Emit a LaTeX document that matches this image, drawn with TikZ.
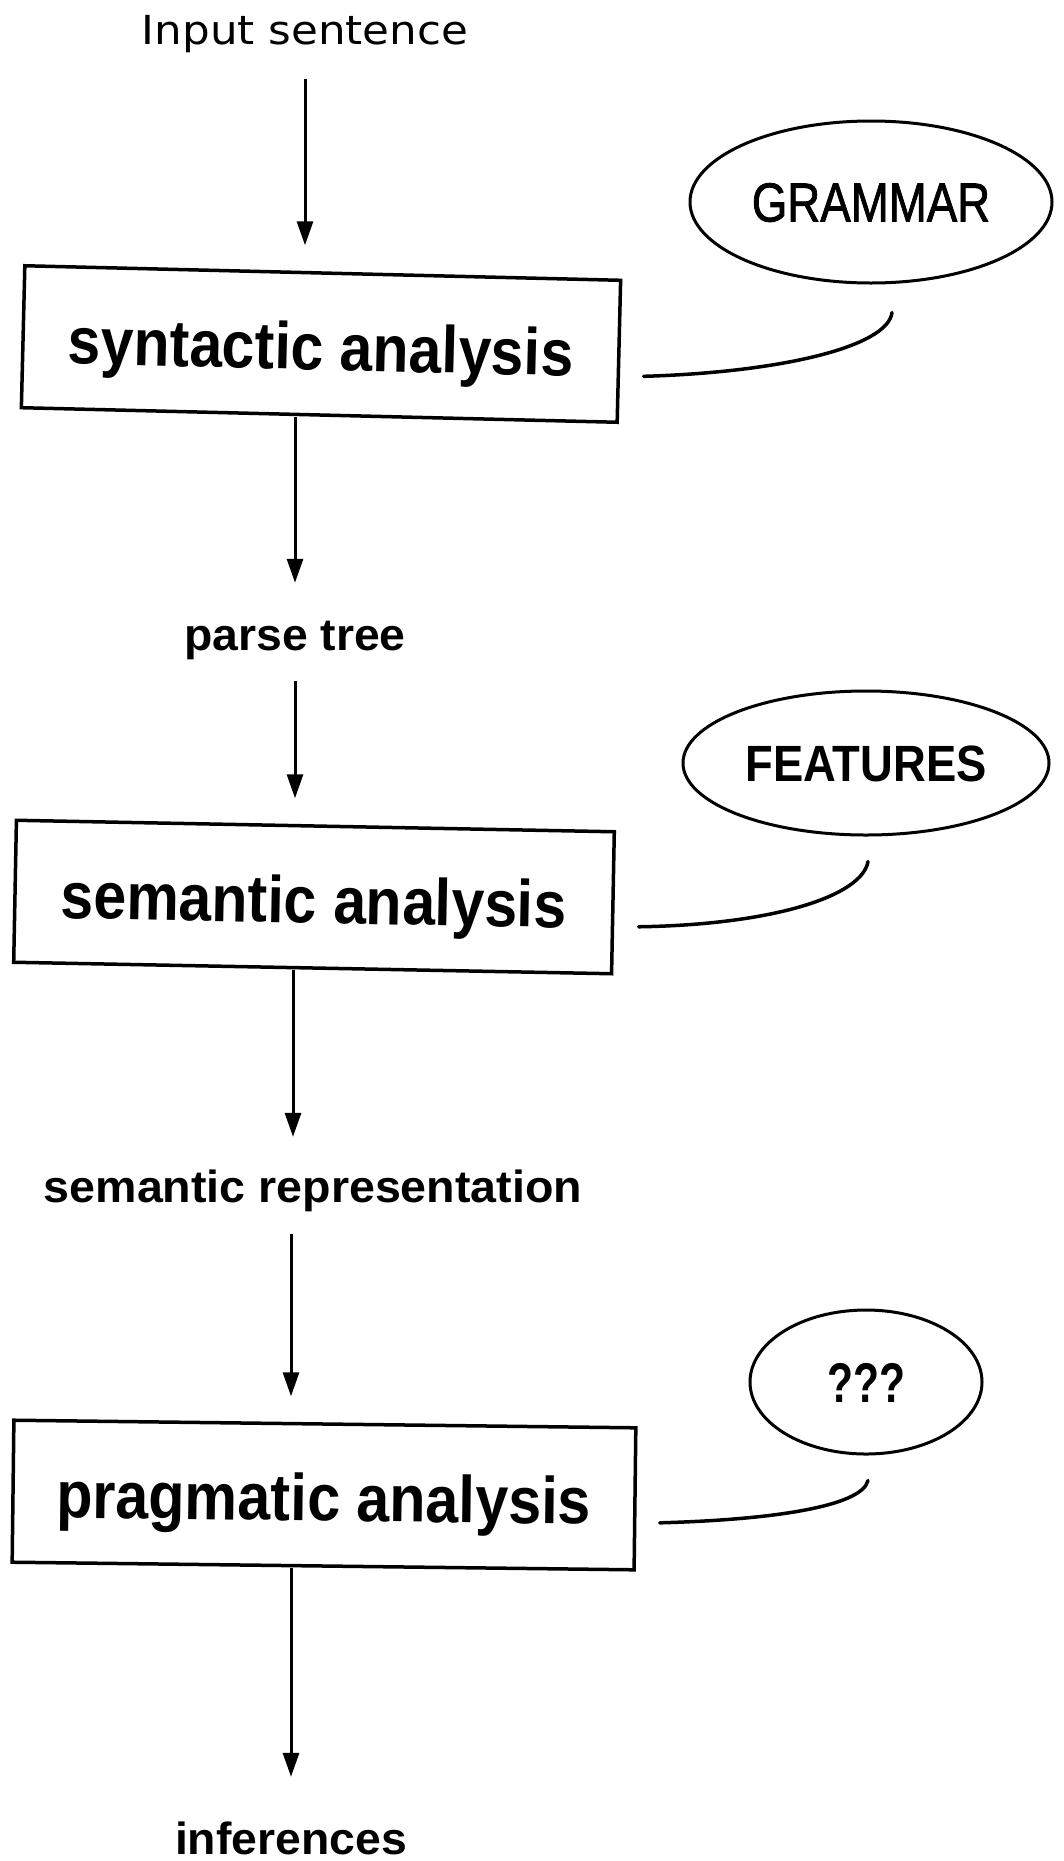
\documentclass[tikz,border=0pt]{standalone}
\usepackage{fontspec}
\usepackage{graphicx}
\setmainfont{Liberation Sans}
\newfontfamily\roundfont{DejaVu Sans}
\newfontfamily\medfont[FakeBold=1.5]{Liberation Sans}
\usetikzlibrary{arrows.meta,shapes.geometric,calc}

\begin{document}
\begin{tikzpicture}[x=1pt,y=-1pt,
  stage/.style={draw, line width=3.5pt, rectangle, minimum height=142pt,
    inner sep=0pt, text height=56pt, text depth=4pt,
    font=\bfseries\fontsize{66}{68}\selectfont},
  datum/.style={inner sep=0pt, text height=34pt, text depth=10pt,
    font=\bfseries\fontsize{45}{47}\selectfont},
  store/.style={draw, ellipse, line width=3pt, inner sep=0pt, text depth=0pt},
  flow/.style={line width=3pt, -{Triangle[length=24pt,width=16pt]}},
  link/.style={line width=3.5pt, line cap=round},
]
\fill[white] (0,0) rectangle (1064,1861);
\useasboundingbox (0,0) rectangle (1064,1861);

% input and intermediate results
\node[datum, anchor=base, text height=28pt,
      font=\roundfont\fontsize{40}{42}\selectfont] (in) at (305,44)
      {\scalebox{1.09}[1]{Input sentence}};
\node[datum, anchor=base] (tree) at (295,650) {\scalebox{1.03}[1]{parse tree}};
\node[datum, anchor=base] (rep) at (313,1202) {\scalebox{1.035}[1]{semantic representation}};
\node[datum, anchor=base] (inf) at (291,1854) {\scalebox{1.03}[1]{inferences}};

% processing stages
\node[stage, minimum width=596pt, rotate=-1.4] (syn) at (321,344)
      {\scalebox{0.895}[1]{syntactic analysis}};
\node[stage, minimum width=598pt, rotate=-1.1] (sem) at (314,897)
      {\scalebox{0.895}[1]{semantic analysis}};
\node[stage, minimum width=622pt, rotate=-0.7] (prag) at (324,1495)
      {\scalebox{0.9}[1]{pragmatic analysis}};

% knowledge sources
\node[store, minimum width=362pt, minimum height=162pt, text height=39pt,
      font=\medfont\fontsize{55}{56}\selectfont] (gram) at (871,202)
      {\scalebox{0.83}[1]{GRAMMAR}};
\node[store, minimum width=366pt, minimum height=144pt, text height=37pt,
      font=\bfseries\fontsize{51}{52}\selectfont] (feat) at (866,763)
      {\scalebox{0.89}[1]{FEATURES}};
\node[store, minimum width=232pt, minimum height=144pt, text height=41pt,
      font=\bfseries\fontsize{56}{58}\selectfont] (unk) at (866,1382)
      {\scalebox{0.76}[1]{???}};

% main flow
\draw[flow, shorten <=25pt, shorten >=26pt] (in.south) -- (in.south |- syn.north);
\draw[flow, shorten >=33pt] (tree.north |- syn.south) -- (tree.north);
\draw[flow, shorten <=21pt, shorten >=26pt] (tree.south) -- (tree.south |- sem.north);
\coordinate (a4) at ([xshift=-20pt]rep.north);
\draw[flow, shorten >=31pt] (a4 |- sem.south) -- (a4);
\coordinate (a5) at ([xshift=-22pt]rep.south);
\draw[flow, shorten <=22pt, shorten >=26pt] (a5) -- (a5 |- prag.north);
\draw[flow, shorten >=43pt] (inf.north |- prag.south) -- (inf.north);

% links from stages to knowledge sources
\draw[link] ([shift={(23,25)}]syn.east) .. controls +(138,-4) and +(-4,34) ..
            ([shift={(21,28)}]gram.south);
\draw[link] ([shift={(24,24)}]sem.east) .. controls +(133,-2) and +(-6,35) ..
            ([shift={(2,25)}]feat.south);
\draw[link] ([shift={(23,24)}]prag.east) .. controls +(112,-3) and +(-6,26) ..
            ([shift={(2,25)}]unk.south);
\end{tikzpicture}
\end{document}
